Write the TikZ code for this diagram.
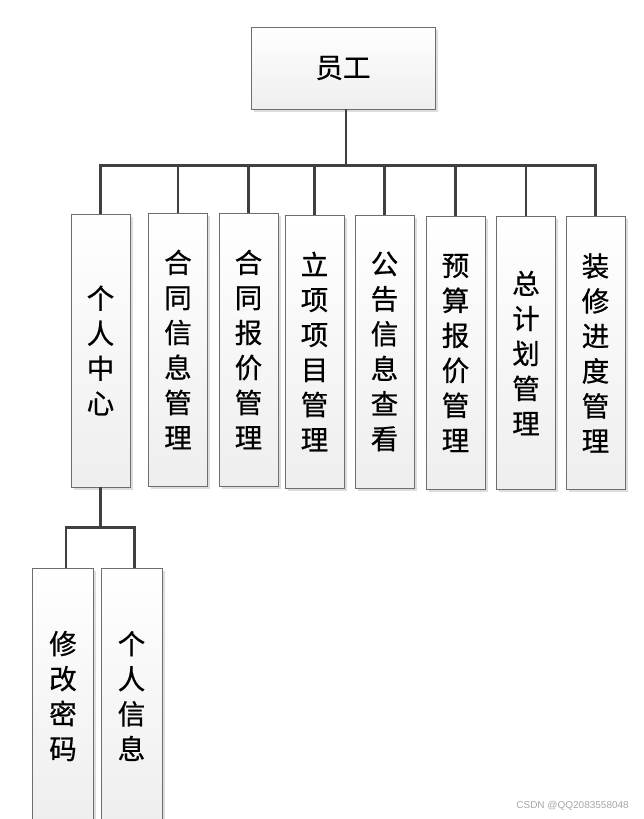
\documentclass[tikz,border=0pt]{standalone}
\usepackage{fontspec}
\newfontfamily\cjk[FakeBold=0.7]{Noto Sans CJK SC}
\newfontfamily\wm{Liberation Sans}
\usetikzlibrary{shadows}
\definecolor{boxline}{HTML}{6E6E6E}
\definecolor{conn}{HTML}{404040}
\definecolor{shade}{HTML}{EEEEEE}
\definecolor{shadowc}{HTML}{DDDDDD}
\begin{document}
\begin{tikzpicture}[x=1pt,y=-1pt,
  box/.style={draw=boxline, line width=0.9pt, rectangle, inner sep=0pt,
    top color=white, bottom color=shade,
    drop shadow={shadow xshift=2.5pt, shadow yshift=-2.5pt, fill=shadowc, opacity=1},
    font=\cjk\fontsize{27.5}{35}\selectfont, align=center, text=black},
  vbox/.style={box, minimum width=59pt, minimum height=273pt},
  lbox/.style={box, minimum width=61pt, minimum height=256pt},
  link/.style={draw=conn, line width=2.8pt}
]
\useasboundingbox (0,0) rectangle (644,819);
\begin{scope}
\clip (0,0) rectangle (644,819);
% top
\node[box, minimum width=184pt, minimum height=82pt] (top) at (343,68) {员工};
% second level
\node[vbox] (c1) at (100.5,350.5) {个\\人\\中\\心};
\node[vbox] (c2) at (178,349.5) {合\\同\\信\\息\\管\\理};
\node[vbox] (c3) at (248.5,349.5) {合\\同\\报\\价\\管\\理};
\node[vbox] (c4) at (314.5,351.5) {立\\项\\项\\目\\管\\理};
\node[vbox] (c5) at (384.5,351.5) {公\\告\\信\\息\\查\\看};
\node[vbox] (c6) at (455.5,353) {预\\算\\报\\价\\管\\理};
\node[vbox] (c7) at (526,353) {总\\计\\划\\管\\理};
\node[vbox] (c8) at (595.5,353) {装\\修\\进\\度\\管\\理};
% third level
\node[lbox] (d1) at (63,696) {修\\改\\密\\码};
\node[lbox] (d2) at (131.5,696) {个\\人\\信\\息};
% connectors
\foreach \c in {c1,c2,c3,c4,c5,c6,c7,c8}
  \draw[link] ([xshift=3pt]top.south) -- ++(0,56) -| (\c.north);
\foreach \d in {d1,d2}
  \draw[link] (c1.south) -- ++(0,40) -| ([xshift=3pt]\d.north);
\end{scope}
\node[anchor=east, inner sep=0pt, font=\wm\fontsize{10}{12}\selectfont, text=gray!70] (wmk) at (629,806) {CSDN @QQ2083558048};
\end{tikzpicture}
\end{document}
